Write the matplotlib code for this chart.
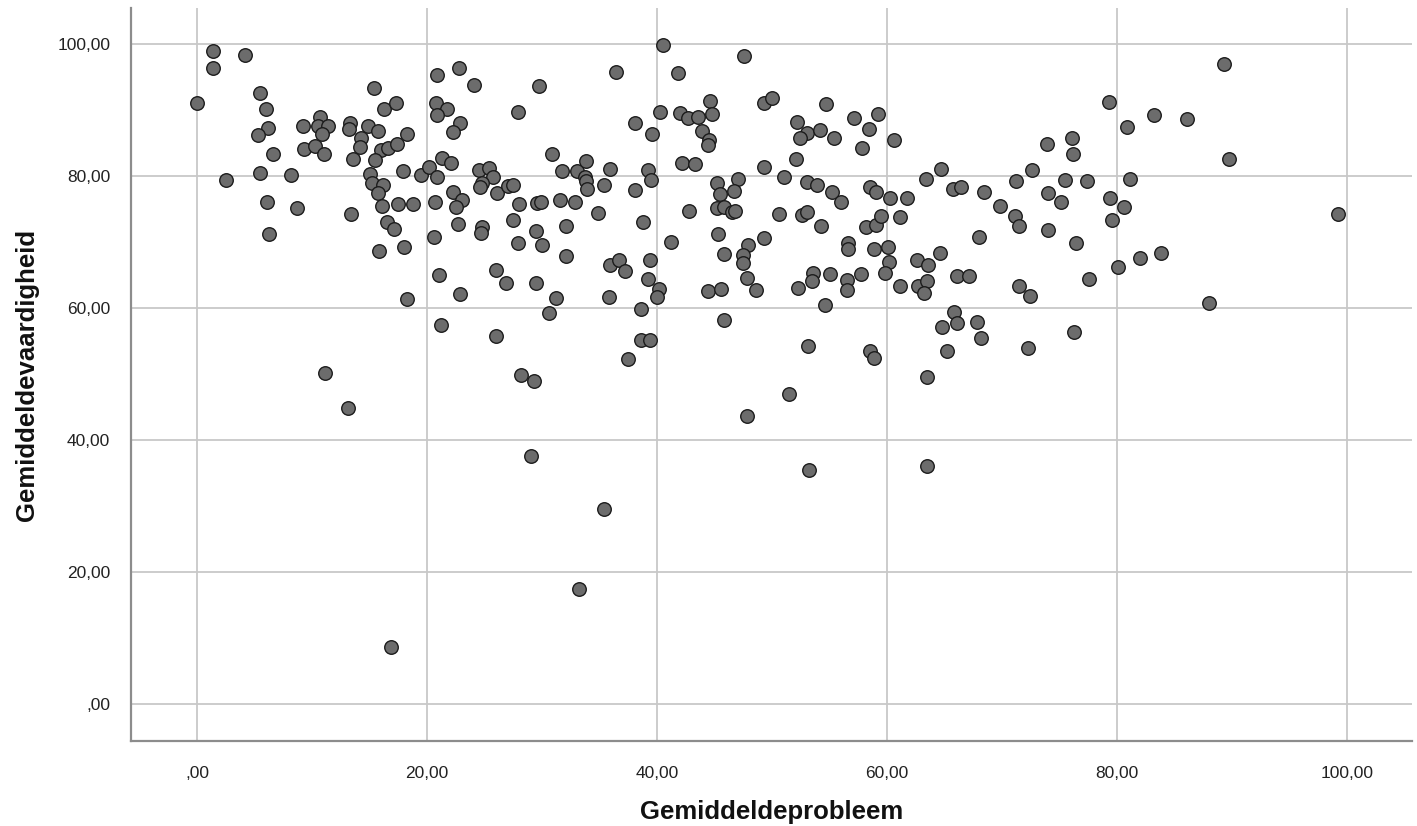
import matplotlib
matplotlib.use("Agg")
import matplotlib.pyplot as plt
from matplotlib.ticker import FuncFormatter

# Gemiddeldeprobleem (x) and Gemiddeldevaardigheid (y)
probleem = [
    1.36, 1.36, 4.2, 0.03, 5.5, 6.0, 6.2, 5.3, 6.6, 5.5, 2.55, 8.2, 9.2, 9.3, 10.3, 10.7,
    10.5, 11.4, 10.9, 11.0, 13.3, 13.2, 13.6, 15.4, 16.3, 17.3, 14.9, 15.7, 14.3, 14.2,
    16.0, 16.6, 17.4, 15.5, 18.3, 15.0, 15.2, 16.2, 15.7, 17.9, 19.5, 20.2, 20.9, 21.3,
    22.1, 20.9, 22.8, 24.1, 29.7, 20.8, 21.7, 20.9, 27.9, 22.9, 22.3, 30.9, 24.5, 25.4,
    25.7, 24.8, 24.6, 26.1, 27.0, 27.5, 31.7, 22.3, 23.0, 6.1, 8.7, 16.1, 17.5, 18.8,
    20.7, 22.5, 28.0, 29.6, 29.9, 31.6,
    13.4, 16.5, 17.1, 6.3, 15.8, 18.0, 20.6, 22.7, 24.8, 24.7, 27.5, 27.9, 29.5, 30.0,
    21.0, 22.9, 26.0, 26.9, 29.5, 31.2, 30.6, 18.3, 21.2, 26.0, 11.1, 28.2, 29.3,
    13.1, 29.0, 16.9, 33.2,
    40.5, 47.6, 36.4, 41.8, 44.6, 49.3, 50.0, 54.7, 40.3, 42.0, 42.7, 43.6, 44.8, 38.1,
    39.6, 43.9, 44.5, 44.4, 52.2, 53.0, 52.4, 54.2, 55.4, 57.1, 59.2, 58.4, 57.8, 60.6,
    52.1, 49.3, 51.0, 53.0, 53.9, 55.2, 56.0, 58.5, 59.0, 60.3, 61.7, 63.4, 64.7, 65.7,
    66.4, 68.4, 33.0, 33.8, 33.7, 33.8, 33.9, 35.4, 35.9, 39.2, 39.5, 38.1, 42.2, 43.3,
    45.2, 47.0, 45.5, 46.7, 32.9, 34.9, 42.8, 45.2, 45.8, 46.5, 46.8, 50.6, 52.6, 53.0,
    32.1, 38.8, 54.3, 58.2, 59.0, 59.5, 61.1, 68.0, 32.1, 41.2, 45.3, 45.8, 47.9, 47.5,
    47.5, 49.3, 47.8, 48.6, 35.9, 36.7, 37.2, 39.4, 39.2, 40.2, 40.0, 35.8, 44.4, 45.6,
    56.6, 56.6, 58.9, 60.1, 60.2, 62.6, 63.6, 64.6, 53.6, 53.5, 55.0, 56.5, 56.5, 57.7,
    59.8, 52.3, 61.1, 62.7, 63.5, 63.2, 66.1, 67.1, 54.6, 38.6, 45.8, 65.8, 66.1, 64.8,
    67.8, 68.2, 65.2, 38.6, 39.4, 37.5, 53.1, 58.5, 58.9, 63.5,
    35.4, 47.8, 51.5, 53.2, 63.5,
    89.3, 79.3, 80.9, 83.2, 86.1, 89.7, 76.1, 76.2, 73.9, 72.6, 71.2, 75.5, 77.4, 81.1,
    74.0, 75.1, 79.4, 80.6, 69.8, 71.1, 99.2,
    71.5, 79.6, 74.0, 76.4, 80.1, 82.0, 83.8, 77.6, 71.5, 72.4, 88.0, 76.3, 72.3,
]
vaardigheid = [
    98.9, 96.4, 98.3, 91.1, 92.5, 90.2, 87.2, 86.2, 83.4, 80.5, 79.4, 80.2, 87.6, 84.1, 84.5, 89.0,
    87.5, 87.5, 86.3, 83.3, 88.0, 87.1, 82.6, 93.3, 90.2, 91.1, 87.5, 86.8, 85.7, 84.4,
    83.9, 84.3, 84.9, 82.4, 86.4, 80.3, 78.9, 78.7, 77.4, 80.7, 80.2, 81.4, 79.8, 82.7,
    81.9, 95.3, 96.3, 93.8, 93.6, 91.1, 90.1, 89.3, 89.7, 88.0, 86.7, 83.4, 80.9, 81.2,
    79.8, 78.9, 78.3, 77.4, 78.5, 78.7, 80.7, 77.5, 76.4, 76.1, 75.2, 75.4, 75.7, 75.7,
    76.0, 75.3, 75.8, 75.9, 76.1, 76.3,
    74.2, 73.1, 71.9, 71.2, 68.6, 69.2, 70.8, 72.8, 72.2, 71.4, 73.4, 69.9, 71.6, 69.6,
    65.0, 62.1, 65.8, 63.8, 63.8, 61.5, 59.2, 61.3, 57.4, 55.7, 50.1, 49.9, 48.9,
    44.9, 37.6, 8.7, 17.4,
    99.9, 98.2, 95.7, 95.6, 91.4, 91.0, 91.8, 90.9, 89.7, 89.5, 88.8, 88.9, 89.4, 88.1,
    86.4, 86.8, 85.5, 84.7, 88.2, 86.5, 85.8, 87.0, 85.7, 88.8, 89.4, 87.1, 84.3, 85.5,
    82.6, 81.3, 79.9, 79.1, 78.6, 77.5, 76.0, 78.3, 77.5, 76.6, 76.7, 79.6, 81.1, 78.0,
    78.4, 77.6, 80.7, 82.2, 79.9, 79.3, 78.0, 78.7, 81.1, 80.9, 79.4, 77.9, 82.0, 81.8,
    78.9, 79.5, 77.2, 77.7, 76.0, 74.4, 74.7, 75.2, 75.3, 74.6, 74.7, 74.2, 74.1, 74.6,
    72.4, 73.0, 72.4, 72.2, 72.5, 73.9, 73.8, 70.8, 67.9, 70.0, 71.2, 68.2, 69.6, 68.1,
    66.8, 70.6, 64.6, 62.7, 66.5, 67.3, 65.6, 67.2, 64.4, 62.9, 61.7, 61.6, 62.5, 62.9,
    69.9, 68.9, 68.9, 69.3, 67.0, 67.3, 66.5, 68.4, 65.3, 64.1, 65.1, 64.3, 62.7, 65.2,
    65.3, 63.1, 63.3, 63.3, 64.1, 62.3, 64.8, 64.8, 60.4, 59.9, 58.2, 59.4, 57.7, 57.1,
    57.9, 55.5, 53.5, 55.2, 55.2, 52.2, 54.3, 53.5, 52.5, 49.6,
    29.6, 43.6, 46.9, 35.5, 36.0,
    97.0, 91.2, 87.4, 89.3, 88.6, 82.5, 85.7, 83.4, 84.8, 80.9, 79.2, 79.4, 79.2, 79.6,
    77.4, 76.1, 76.7, 75.3, 75.4, 74.0, 74.2,
    72.4, 73.3, 71.8, 69.9, 66.2, 67.5, 68.3, 64.4, 63.4, 61.8, 60.7, 56.4, 54.0,
]
tick_values = [0, 20, 40, 60, 80, 100]
x_label = "Gemiddeldeprobleem"
y_label = "Gemiddeldevaardigheid"

plt.rcParams['font.family'] = ['Liberation Sans', 'DejaVu Sans']

fig = plt.figure(figsize=(14.17, 8.26), dpi=100)
ax = fig.add_axes([131/1417, 1 - 741/826, 1281/1417, 733/826])

ax.scatter(probleem, vaardigheid, s=95, facecolor='#6c6c6c', edgecolor='#1c1c1c',
           linewidths=1.0, zorder=3)

ax.set_xlim(-5.74, 105.65)
ax.set_ylim(-5.6, 105.45)
ax.set_xticks(tick_values)
ax.set_yticks(tick_values)

def fmt(v, pos):
    s = f"{v:.2f}".replace('.', ',')
    if s.startswith('0,'):
        s = s[1:]
    return s

ax.xaxis.set_major_formatter(FuncFormatter(fmt))
ax.yaxis.set_major_formatter(FuncFormatter(fmt))

ax.grid(True, color='#c8c8c8', linewidth=1.3, zorder=0)
ax.set_axisbelow(True)
for side in ['top', 'right']:
    ax.spines[side].set_visible(False)
for side in ['left', 'bottom']:
    ax.spines[side].set_color('#8c8c8c')
    ax.spines[side].set_linewidth(1.6)

ax.tick_params(axis='both', length=0, labelsize=12.5, colors='#222222')
ax.tick_params(axis='x', pad=18)
ax.tick_params(axis='y', pad=15)

ax.set_xlabel(x_label, fontsize=18.5, fontweight='bold', color='#111111')
ax.set_ylabel(y_label, fontsize=18.5, fontweight='bold', color='#111111')
ax.xaxis.set_label_coords(0.5, (741 - 812) / 733)
ax.yaxis.set_label_coords((27 - 131) / 1281, 0.5)
ax.xaxis.label.set_va('center')
ax.yaxis.label.set_va('center')

fig.savefig("out.png", dpi=100, facecolor='white')
